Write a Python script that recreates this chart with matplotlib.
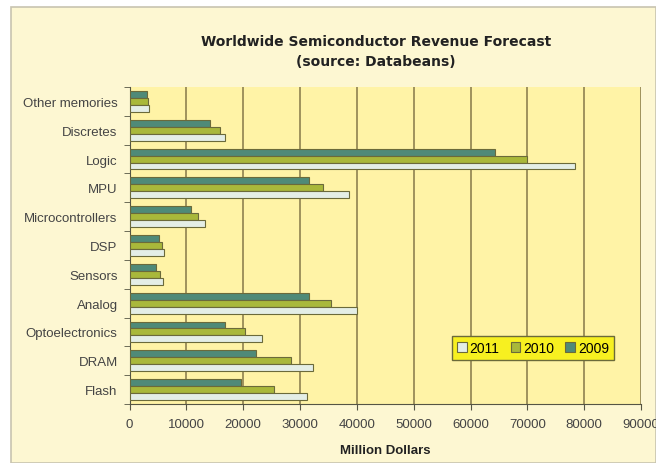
import matplotlib
matplotlib.use("Agg")
import matplotlib.pyplot as plt
import numpy as np
from matplotlib.patches import Rectangle

categories = ["Other memories", "Discretes", "Logic", "MPU", "Microcontrollers",
              "DSP", "Sensors", "Analog", "Optoelectronics", "DRAM", "Flash"]
rev_2009 = [3000, 14200, 64300, 31500, 10800, 5200, 4600, 31600, 16800, 22200, 19600]
rev_2010 = [3200, 16000, 69900, 34100, 12000, 5700, 5400, 35500, 20400, 28500, 25500]
rev_2011 = [3400, 16800, 78400, 38700, 13300, 6100, 5900, 40000, 23400, 32300, 31300]
xticks = [0, 10000, 20000, 30000, 40000, 50000, 60000, 70000, 80000, 90000]

plt.rcParams['font.family'] = ['Liberation Sans', 'DejaVu Sans']

fig = plt.figure(figsize=(6.56, 4.64), dpi=100)
fig.patch.set_facecolor('white')
fig.patches.append(Rectangle((11/656, 0), 1 - 11/656, 1 - 8/464, transform=fig.transFigure,
                             facecolor='#fdf7d2', edgecolor='#c8c4b0', lw=1.2, zorder=-10))

ax = fig.add_axes([129.5/656, 1 - 405/464, (641 - 129.5)/656, (405 - 88)/464])
ax.set_facecolor('#fff3a6')

n = len(categories)
y = np.arange(n)
h = 0.24
edge = '#6b6a3a'
ax.barh(y - h, rev_2009, height=h, color='#4f8a78', edgecolor=edge, lw=0.8, label='2009', zorder=3)
ax.barh(y, rev_2010, height=h, color='#a9b83a', edgecolor=edge, lw=0.8, label='2010', zorder=3)
ax.barh(y + h, rev_2011, height=h, color='#e4eee6', edgecolor=edge, lw=0.8, label='2011', zorder=3)

ax.set_ylim(n - 0.5, -0.5)
ax.set_xlim(0, 90000)
ax.set_xticks(xticks)
ax.set_xticklabels([str(v) for v in xticks], fontsize=9.5, color='#444444')
ax.set_yticks(y)
ax.set_yticklabels(categories, fontsize=9.5, color='#444444')
ax.tick_params(axis='y', length=0, pad=8.5)
ax.set_yticks(np.arange(-0.5, n, 1.0), minor=True)
ax.tick_params(axis='y', which='minor', length=4, color='#555544', direction='out')
ax.tick_params(axis='x', length=4, color='#555544', direction='out', pad=6)
ax.grid(axis='x', color='#8f8250', lw=1.2, zorder=1)
for s in ['top', 'right']:
    ax.spines[s].set_visible(False)
ax.spines['left'].set_color('#555544')
ax.spines['bottom'].set_color('#555544')

ax.set_xlabel('Million Dollars', fontsize=9.5, fontweight='bold', color='#222222', labelpad=10)
fig.text(376/656, 1 - 52/464, 'Worldwide Semiconductor Revenue Forecast\n(source: Databeans)',
         fontsize=10, fontweight='bold', color='#222222', ha='center', va='center',
         linespacing=1.5, family='DejaVu Sans')

handles, labels = ax.get_legend_handles_labels()
leg = ax.legend(handles[::-1], labels[::-1], ncol=3, loc='center',
                bbox_to_anchor=((533 - 129.5)/(641 - 129.5), (405 - 349)/(405 - 88)),
                fontsize=10, frameon=True, fancybox=False, handlelength=0.7, handleheight=0.7,
                handletextpad=0.2, columnspacing=0.8, borderpad=0.35)
leg.get_frame().set_facecolor('#f7f020')
leg.get_frame().set_edgecolor('#6b6a3a')
leg.get_frame().set_alpha(1)

fig.savefig('out.png', dpi=100)
